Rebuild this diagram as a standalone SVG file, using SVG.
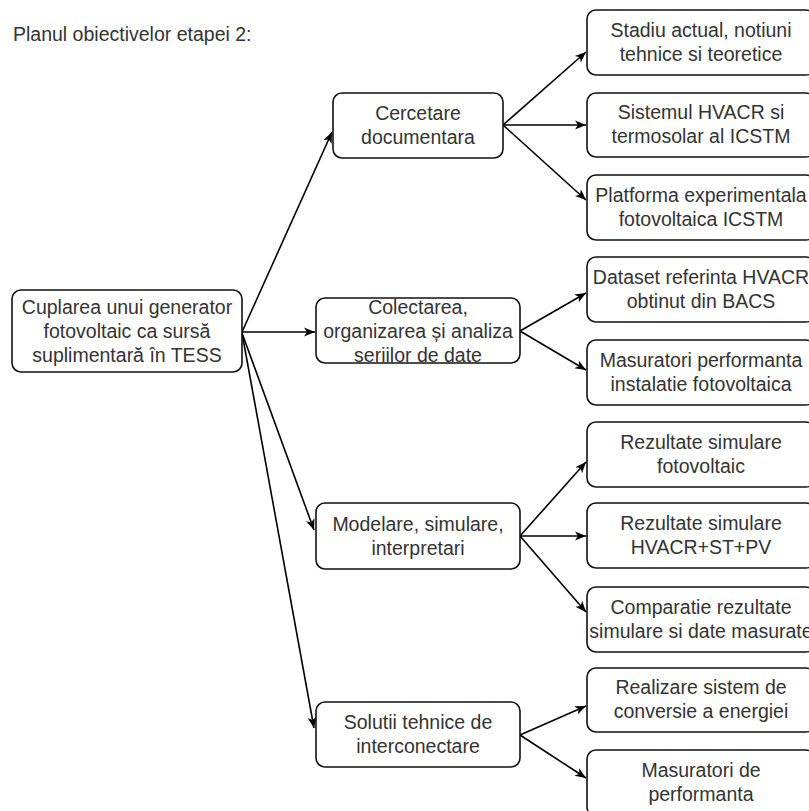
<svg xmlns="http://www.w3.org/2000/svg" width="809" height="811" viewBox="0 0 809 811">
<defs>
<marker id="arr" markerWidth="12" markerHeight="10" refX="11" refY="5" orient="auto" markerUnits="userSpaceOnUse">
<path d="M0,0.5 L11,5 L0,9.5 L3,5 Z" fill="#000"/>
</marker>
<style>
.box{fill:#fff;stroke:#111;stroke-width:1.6}
.t{font-family:"Liberation Sans",Arial,sans-serif;font-size:19.5px;fill:#333;text-anchor:middle}
.e{fill:none;stroke:#000;stroke-width:1.6;marker-end:url(#arr)}
</style>
</defs>
<rect width="809" height="811" fill="#fff"/>
<text x="13" y="41" class="t" style="text-anchor:start">Planul obiectivelor etapei 2:</text>

<g id="edges">
<line class="e" x1="242" y1="332" x2="332" y2="132"/>
<line class="e" x1="242" y1="332" x2="315" y2="332"/>
<line class="e" x1="242" y1="333" x2="314" y2="530"/>
<line class="e" x1="242" y1="333" x2="314" y2="728"/>
<line class="e" x1="503" y1="125" x2="586" y2="52"/>
<line class="e" x1="503" y1="125" x2="586" y2="125"/>
<line class="e" x1="503" y1="125" x2="586" y2="200"/>
<line class="e" x1="520" y1="331" x2="586" y2="293"/>
<line class="e" x1="520" y1="331" x2="586" y2="370"/>
<line class="e" x1="520" y1="536" x2="586" y2="462"/>
<line class="e" x1="520" y1="536" x2="586" y2="536"/>
<line class="e" x1="520" y1="536" x2="586" y2="612"/>
<line class="e" x1="520" y1="735" x2="586" y2="706"/>
<line class="e" x1="520" y1="735" x2="586" y2="778"/>
</g>

<g id="root">
<rect class="box" x="12" y="290" width="230" height="82" rx="9"/>
<text class="t" x="127" y="314">Cuplarea unui generator</text>
<text class="t" x="127" y="338">fotovoltaic ca sursă</text>
<text class="t" x="127" y="362">suplimentară în TESS</text>
</g>

<g id="cercetare">
<rect class="box" x="333" y="93" width="170" height="65" rx="9"/>
<text class="t" x="418" y="120">Cercetare</text>
<text class="t" x="418" y="144">documentara</text>
</g>
<g id="colectarea">
<rect class="box" x="316" y="298" width="204" height="65" rx="9"/>
<text class="t" x="418" y="314">Colectarea,</text>
<text class="t" x="418" y="338">organizarea și analiza</text>
<text class="t" x="418" y="362">seriilor de date</text>
</g>
<g id="modelare">
<rect class="box" x="316" y="503" width="204" height="66" rx="9"/>
<text class="t" x="418" y="531">Modelare, simulare,</text>
<text class="t" x="418" y="555">interpretari</text>
</g>
<g id="solutii">
<rect class="box" x="316" y="702" width="204" height="65" rx="9"/>
<text class="t" x="418" y="729">Solutii tehnice de</text>
<text class="t" x="418" y="753">interconectare</text>
</g>

<g id="r1">
<rect class="box" x="587" y="10" width="228" height="65" rx="9"/>
<text class="t" x="701" y="37">Stadiu actual, notiuni</text>
<text class="t" x="701" y="61">tehnice si teoretice</text>
</g>
<g id="r2">
<rect class="box" x="587" y="93" width="228" height="64" rx="9"/>
<text class="t" x="701" y="119">Sistemul HVACR si</text>
<text class="t" x="701" y="143">termosolar al ICSTM</text>
</g>
<g id="r3">
<rect class="box" x="587" y="175" width="228" height="65" rx="9"/>
<text class="t" x="701" y="202">Platforma experimentala</text>
<text class="t" x="701" y="226">fotovoltaica ICSTM</text>
</g>
<g id="r4">
<rect class="box" x="587" y="257" width="228" height="65" rx="9"/>
<text class="t" x="701" y="284">Dataset referinta HVACR</text>
<text class="t" x="701" y="308">obtinut din BACS</text>
</g>
<g id="r5">
<rect class="box" x="587" y="340" width="228" height="65" rx="9"/>
<text class="t" x="701" y="367">Masuratori performanta</text>
<text class="t" x="701" y="391">instalatie fotovoltaica</text>
</g>
<g id="r6">
<rect class="box" x="587" y="422" width="228" height="65" rx="9"/>
<text class="t" x="701" y="449">Rezultate simulare</text>
<text class="t" x="701" y="473">fotovoltaic</text>
</g>
<g id="r7">
<rect class="box" x="587" y="503" width="228" height="65" rx="9"/>
<text class="t" x="701" y="530">Rezultate simulare</text>
<text class="t" x="701" y="554">HVACR+ST+PV</text>
</g>
<g id="r8">
<rect class="box" x="587" y="587" width="228" height="65" rx="9"/>
<text class="t" x="701" y="614">Comparatie rezultate</text>
<text class="t" x="701" y="638">simulare si date masurate</text>
</g>
<g id="r9">
<rect class="box" x="587" y="668" width="228" height="64" rx="9"/>
<text class="t" x="701" y="694">Realizare sistem de</text>
<text class="t" x="701" y="718">conversie a energiei</text>
</g>
<g id="r10">
<rect class="box" x="587" y="750" width="228" height="66" rx="9"/>
<text class="t" x="701" y="777">Masuratori de</text>
<text class="t" x="701" y="801">performanta</text>
</g>
</svg>
